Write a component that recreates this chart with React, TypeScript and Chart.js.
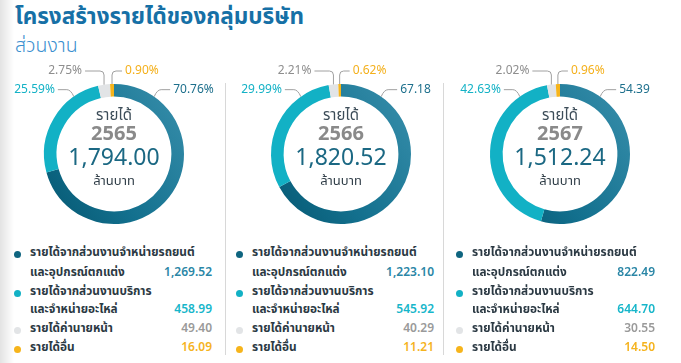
import React, { useEffect, useRef } from 'react';
import { Chart, registerables } from 'chart.js';

Chart.register(...registerables);

// ---------------- data ----------------
const years = ['2565', '2566', '2567'];
const totalLabels = ['1,794.00', '1,820.52', '1,512.24'];
const categoryLines = [
  ['รายได้จากส่วนงานจำหน่ายรถยนต์', 'และอุปกรณ์ตกแต่ง'],
  ['รายได้จากส่วนงานบริการ', 'และจำหน่ายอะไหล่'],
  ['รายได้ค่านายหน้า'],
  ['รายได้อื่น'],
];
const values2565 = [1269.52, 458.99, 49.4, 16.09];
const values2566 = [1223.1, 545.92, 40.29, 11.21];
const values2567 = [822.49, 644.7, 30.55, 14.5];
const pctLabels2565 = ['70.76%', '25.59%', '2.75%', '0.90%'];
const pctLabels2566 = ['67.18', '29.99%', '2.21%', '0.62%'];
const pctLabels2567 = ['54.39', '42.63%', '2.02%', '0.96%'];

const seriesValues = [values2565, values2566, values2567];
const seriesPct = [pctLabels2565, pctLabels2566, pctLabels2567];

// ---------------- style ----------------
const FONT = "'Noto Sans Thai', 'Noto Sans', Roboto, sans-serif";
const segColors = ['#1a7896', '#12b1c5', '#e2e4e6', '#f6b41b'];
const bulletColors = ['#0f6580', '#12b1c5', '#e2e4e6', '#f6b41b'];
const labelColors = ['#1d6f8c', '#14b2c6', '#8e8e8e', '#f4b01c'];
const valueColors = ['#2a86a6', '#17b6ca', '#9a9a9a', '#f5b31e'];

const panelCenterX = [114, 341, 560];
const panelTextX = [30, 252, 472];
const panelValueRight = [212, 434, 655];
const CANVAS_W = 224;
const CANVAS_H = 180;
const CANVAS_TOP = 60;

const fmt = (v: number) =>
  v.toLocaleString('en-US', { minimumFractionDigits: 2, maximumFractionDigits: 2 });

const labelPlugin = {
  id: 'ringLabels',
  afterDatasetsDraw(chart: any, _args: any, opts: any) {
    const ctx = chart.ctx;
    const meta = chart.getDatasetMeta(0);
    const arcs = meta.data;
    if (!arcs.length) return;
    const cx = arcs[0].x;
    const cy = arcs[0].y;
    const R = arcs[0].outerRadius;
    const labels: string[] = opts.labels;
    ctx.save();
    ctx.strokeStyle = '#a0a0a0';
    ctx.lineWidth = 1;
    ctx.font = `12px ${FONT}`;
    ctx.textBaseline = 'middle';
    const lim = (35 * Math.PI) / 180;
    arcs.forEach((arc: any, i: number) => {
      let mid = (arc.startAngle + arc.endAngle) / 2 + Math.PI / 2;
      while (mid > Math.PI) mid -= 2 * Math.PI;
      let a = mid;
      if (i < 2) a = Math.max(-lim, Math.min(lim, mid));
      const px = cx + R * Math.sin(a);
      const py = cy - R * Math.cos(a);
      ctx.beginPath();
      let tx: number, ty: number, dir: number;
      if (i < 2) {
        dir = a >= 0 ? 1 : -1;
        const qx = px + dir * 7;
        const qy = py - 7;
        ctx.moveTo(px, py);
        ctx.quadraticCurveTo(px + dir * 3, qy, qx, qy);
        ctx.lineTo(qx + dir * 9, qy);
        tx = qx + dir * 12;
        ty = qy + 1;
      } else {
        dir = i === 2 ? -1 : 1;
        const len = i === 2 ? 19 : 10;
        const topY = cy - R - 13;
        ctx.moveTo(px, py);
        ctx.lineTo(px, topY + 4);
        ctx.quadraticCurveTo(px, topY, px + dir * 4, topY);
        ctx.lineTo(px + dir * len, topY);
        tx = px + dir * (len + 3);
        ty = topY + 1;
      }
      ctx.stroke();
      ctx.fillStyle = labelColors[i];
      ctx.textAlign = dir > 0 ? 'left' : 'right';
      ctx.fillText(labels[i], tx, ty);
    });

    // centre text
    ctx.textAlign = 'center';
    ctx.fillStyle = '#3c4c58';
    ctx.font = `15px ${FONT}`;
    ctx.fillText('รายได้', cx, cy - 37);
    ctx.fillStyle = '#8a8a8a';
    ctx.font = `bold 20px ${FONT}`;
    ctx.fillText(opts.year, cx, cy - 18);
    ctx.fillStyle = '#1b6883';
    ctx.font = `23px ${FONT}`;
    ctx.fillText(opts.total, cx, cy + 6);
    ctx.fillStyle = '#2f3d47';
    ctx.font = `13px ${FONT}`;
    ctx.fillText('ล้านบาท', cx, cy + 28);
    ctx.restore();
  },
};

function Ring({ idx }: { idx: number }) {
  const ref = useRef<HTMLCanvasElement>(null);
  useEffect(() => {
    if (!ref.current) return;
    const chart = new Chart(ref.current, {
      type: 'doughnut',
      data: {
        labels: categoryLines.map((l) => l.join(' ')),
        datasets: [
          {
            data: seriesValues[idx],
            backgroundColor: (c: any) => {
              const i = c.dataIndex;
              if (i !== 0) return segColors[i];
              const area = c.chart.chartArea;
              if (!area) return segColors[0];
              const g = c.chart.ctx.createLinearGradient(area.right, area.top + area.height * 0.3, area.left, area.bottom);
              g.addColorStop(0, '#3189a6');
              g.addColorStop(0.55, '#13708e');
              g.addColorStop(1, '#045670');
              return g;
            },
            borderWidth: 0,
            hoverOffset: 0,
            offset: 0,
          },
        ],
      },
      options: {
        responsive: false,
        animation: false,
        events: [],
        cutout: '82%',
        layout: { padding: { top: 24, bottom: 16, left: 42, right: 42 } },
        plugins: {
          legend: { display: false },
          tooltip: { enabled: false },
          ringLabels: { labels: seriesPct[idx], year: years[idx], total: totalLabels[idx] },
        } as any,
      },
      plugins: [labelPlugin],
    });
    return () => chart.destroy();
  }, [idx]);
  return (
    <canvas
      ref={ref}
      width={CANVAS_W}
      height={CANVAS_H}
      style={{ position: 'absolute', left: panelCenterX[idx] - CANVAS_W / 2, top: CANVAS_TOP, width: CANVAS_W, height: CANVAS_H }}
    />
  );
}

function Legend({ idx }: { idx: number }) {
  const rows: any[] = [];
  const lineYs = [[252, 272], [291, 309], [328], [347]];
  categoryLines.forEach((lines, i) => {
    lines.forEach((t, j) => {
      const y = lineYs[i][j];
      rows.push(
        <div key={`t${i}${j}`} style={{ position: 'absolute', left: panelTextX[idx], top: y - 10, height: 20, lineHeight: '20px', fontSize: 11.8, fontWeight: 700, color: '#2b3943', whiteSpace: 'nowrap' }}>
          {t}
        </div>
      );
    });
    rows.push(
      <div key={`b${i}`} style={{ position: 'absolute', left: panelTextX[idx] - 16, top: lineYs[i][0] - 1.5, width: 7, height: 7, borderRadius: 4, background: bulletColors[i] }} />
    );
    const vy = lineYs[i][lineYs[i].length - 1];
    rows.push(
      <div key={`v${i}`} style={{ position: 'absolute', right: 681 - panelValueRight[idx], top: vy - 10, height: 20, lineHeight: '20px', fontSize: 12, fontWeight: 600, color: valueColors[i], whiteSpace: 'nowrap', fontFamily: FONT }}>
        {fmt(seriesValues[idx][i])}
      </div>
    );
  });
  return <>{rows}</>;
}

export default function App() {
  return (
    <div style={{ position: 'fixed', left: 0, top: 0, width: 681, height: 363, background: '#fff', overflow: 'hidden', fontFamily: FONT }}>
      <div style={{ position: 'absolute', left: 0, top: 0, width: 14, height: 363, background: 'linear-gradient(to right, #e3e3e3, #ffffff)' }} />
      <div style={{ position: 'absolute', left: 15, top: 2, fontSize: 22.5, fontWeight: 700, color: '#1670a6', whiteSpace: 'nowrap', lineHeight: '30px' }}>
        โครงสร้างรายได้ของกลุ่มบริษัท
      </div>
      <div style={{ position: 'absolute', left: 15, top: 32, fontSize: 19.5, fontWeight: 300, color: '#3a8fcf', whiteSpace: 'nowrap', lineHeight: '28px' }}>
        ส่วนงาน
      </div>
      <div style={{ position: 'absolute', left: 225, top: 83, width: 1, height: 272, background: '#d8d8d8' }} />
      <div style={{ position: 'absolute', left: 443, top: 83, width: 1, height: 272, background: '#d8d8d8' }} />
      {[0, 1, 2].map((i) => (
        <React.Fragment key={i}>
          <Ring idx={i} />
          <Legend idx={i} />
        </React.Fragment>
      ))}
    </div>
  );
}
